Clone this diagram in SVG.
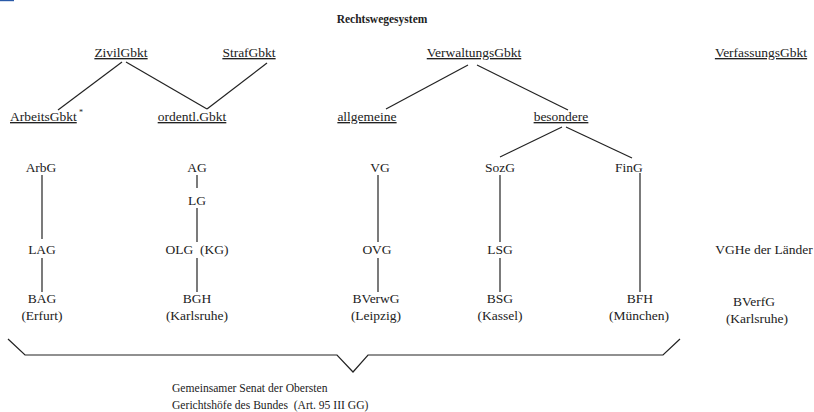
<svg xmlns="http://www.w3.org/2000/svg" width="814" height="412" viewBox="0 0 814 412">
<style>
text{font-family:"Liberation Serif","Times New Roman",serif;fill:#222;font-size:13.5px;text-anchor:middle}
.u{text-decoration:underline}
.t{font-weight:bold;font-size:11.5px}
.s{font-size:11.6px;text-anchor:start}
.c line,.c polyline{stroke:#222;stroke-width:1.2;fill:none}
</style>
<rect x="0" y="0" width="14" height="1.2" fill="#2a5aa8"/>
<text class="t" x="382" y="23">Rechtswegesystem</text>
<g class="c" id="connectors">
<line x1="122" y1="62" x2="58" y2="110"/>
<line x1="126" y1="62" x2="207" y2="109"/>
<line x1="267" y1="63" x2="207" y2="109"/>
<line x1="468" y1="65" x2="386" y2="109"/>
<line x1="477" y1="65" x2="568" y2="110"/>
<line x1="562" y1="127" x2="500" y2="157"/>
<line x1="566" y1="127" x2="632" y2="158"/>
<line x1="42" y1="175" x2="42" y2="239"/>
<line x1="42" y1="258" x2="42" y2="292"/>
<line x1="197" y1="175" x2="197" y2="188"/>
<line x1="197" y1="208" x2="197" y2="242"/>
<line x1="197" y1="258" x2="197" y2="292"/>
<line x1="378" y1="175" x2="378" y2="242"/>
<line x1="378" y1="258" x2="378" y2="292"/>
<line x1="500" y1="175" x2="500" y2="242"/>
<line x1="500" y1="258" x2="500" y2="292"/>
<line x1="640" y1="173" x2="640" y2="292"/>
<polyline points="8,339 25,355 337,355 353,372 368,355 663,355 680,339"/>
</g>
<g id="zivil"><text class="u" x="121" y="57">ZivilGbkt</text></g>
<g id="straf"><text class="u" x="249" y="57">StrafGbkt</text></g>
<g id="verwaltung"><text class="u" x="474" y="57">VerwaltungsGbkt</text></g>
<g id="verfassung"><text class="u" x="761" y="57">VerfassungsGbkt</text></g>
<g id="arbeits"><text class="u" x="10" y="121" style="text-anchor:start">ArbeitsGbkt</text><text x="81" y="115" style="font-size:8px">*</text></g>
<g id="ordentl"><text class="u" x="192" y="121">ordentl.Gbkt</text></g>
<g id="allgemeine"><text class="u" x="367" y="121">allgemeine</text></g>
<g id="besondere"><text class="u" x="561" y="121">besondere</text></g>
<g id="arbg"><text x="41" y="172">ArbG</text></g>
<g id="lag"><text x="42" y="254">LAG</text></g>
<g id="bag"><text x="42" y="303">BAG</text><text x="42" y="320">(Erfurt)</text></g>
<g id="ag"><text x="197" y="172">AG</text></g>
<g id="lg"><text x="197" y="205">LG</text></g>
<g id="olg"><text x="197" y="254" xml:space="preserve">OLG  (KG)</text></g>
<g id="bgh"><text x="197" y="303">BGH</text><text x="197" y="320">(Karlsruhe)</text></g>
<g id="vg"><text x="380" y="172">VG</text></g>
<g id="ovg"><text x="377" y="254">OVG</text></g>
<g id="bverwg"><text x="376" y="303">BVerwG</text><text x="376" y="320">(Leipzig)</text></g>
<g id="sozg"><text x="500" y="172">SozG</text></g>
<g id="lsg"><text x="500" y="254">LSG</text></g>
<g id="bsg"><text x="500" y="303">BSG</text><text x="500" y="320">(Kassel)</text></g>
<g id="fing"><text x="629" y="172">FinG</text></g>
<g id="bfh"><text x="640" y="303">BFH</text><text x="639" y="320">(München)</text></g>
<g id="vghe"><text x="764" y="254">VGHe der Länder</text></g>
<g id="bverfg"><text x="754" y="306">BVerfG</text><text x="757" y="323">(Karlsruhe)</text></g>
<g id="senat"><text class="s" x="172" y="392">Gemeinsamer Senat der Obersten</text><text class="s" x="172" y="409" xml:space="preserve">Gerichtshöfe des Bundes  (Art. 95 III GG)</text></g>
</svg>
